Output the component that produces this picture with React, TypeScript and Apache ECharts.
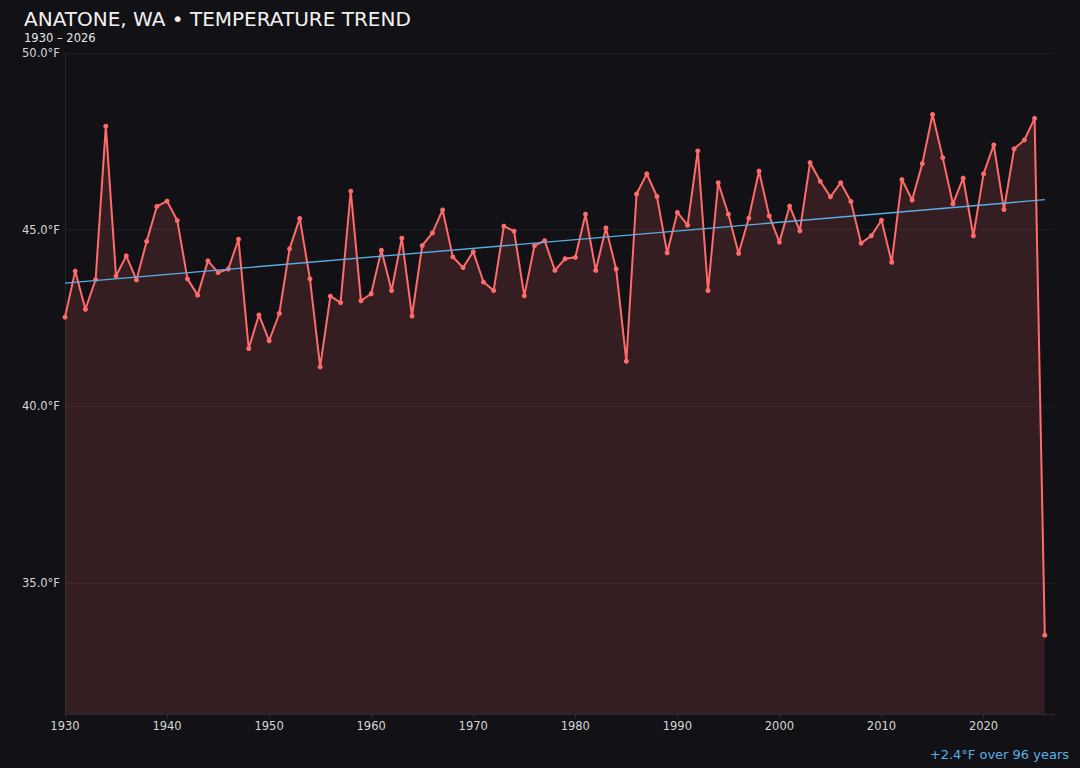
import React, { useEffect, useRef } from "react";
import * as echarts from "echarts";

const years = [
  1930, 1931, 1932, 1933, 1934, 1935, 1936, 1937, 1938, 1939,
  1940, 1941, 1942, 1943, 1944, 1945, 1946, 1947, 1948, 1949,
  1950, 1951, 1952, 1953, 1954, 1955, 1956, 1957, 1958, 1959,
  1960, 1961, 1962, 1963, 1964, 1965, 1966, 1967, 1968, 1969,
  1970, 1971, 1972, 1973, 1974, 1975, 1976, 1977, 1978, 1979,
  1980, 1981, 1982, 1983, 1984, 1985, 1986, 1987, 1988, 1989,
  1990, 1991, 1992, 1993, 1994, 1995, 1996, 1997, 1998, 1999,
  2000, 2001, 2002, 2003, 2004, 2005, 2006, 2007, 2008, 2009,
  2010, 2011, 2012, 2013, 2014, 2015, 2016, 2017, 2018, 2019,
  2020, 2021, 2022, 2023, 2024, 2025, 2026,
];

const temps = [
  42.53, 43.83, 42.75, 43.59, 47.93, 43.69, 44.26, 43.58, 44.67, 45.66,
  45.81, 45.26, 43.61, 43.15, 44.12, 43.79, 43.89, 44.73, 41.64, 42.59,
  41.86, 42.63, 44.46, 45.32, 43.61, 41.12, 43.12, 42.94, 46.09, 42.99,
  43.19, 44.42, 43.28, 44.76, 42.56, 44.55, 44.91, 45.56, 44.23, 43.93,
  44.38, 43.52, 43.28, 45.1, 44.96, 43.13, 44.55, 44.69, 43.85, 44.18,
  44.22, 45.44, 43.85, 45.05, 43.89, 41.28, 46.01, 46.58, 45.94, 44.35,
  45.49, 45.13, 47.23, 43.28, 46.33, 45.44, 44.33, 45.33, 46.66, 45.39,
  44.65, 45.67, 44.97, 46.9, 46.37, 45.93, 46.33, 45.8, 44.62, 44.83,
  45.27, 44.08, 46.42, 45.84, 46.87, 48.26, 47.04, 45.73, 46.46, 44.83,
  46.58, 47.4, 45.57, 47.29, 47.54, 48.15, 33.53,
];

const trendYears = [1930, 2026];
const trendValues = [43.49, 45.85];

const yTicks = [35, 40, 45, 50];

const TITLE = "ANATONE, WA • TEMPERATURE TREND";
const SUBTITLE = "1930 – 2026";
const NOTE = "+2.4°F over 96 years";

const BG = "#121116";
const LINE = "#ff6b6b";
const TREND = "#5aafe4";
const FONT = "DejaVu Sans";

export default function App() {
  const ref = useRef<HTMLDivElement>(null);

  useEffect(() => {
    if (!ref.current) return;
    const chart = echarts.init(ref.current, undefined, { renderer: "svg" });
    chart.setOption({
      animation: false,
      backgroundColor: BG,
      textStyle: { fontFamily: FONT },
      graphic: [
        {
          type: "text",
          x: 24,
          y: 19,
          style: {
            text: TITLE,
            fill: "#f2f2f2",
            fontSize: 20,
            fontFamily: FONT,
            lineHeight: 14,
            verticalAlign: "middle",
          },
        },
        {
          type: "text",
          x: 24,
          y: 37.5,
          style: {
            text: SUBTITLE,
            fill: "#e6e6e6",
            fontSize: 11.5,
            fontFamily: FONT,
            lineHeight: 9,
            verticalAlign: "middle",
          },
        },
        {
          type: "text",
          right: 11,
          top: 748,
          style: { text: NOTE, fill: TREND, fontSize: 13, fontFamily: FONT },
        },
      ],
      grid: { left: 65, right: 25, top: 53, bottom: 54 },
      xAxis: {
        type: "value",
        min: 1930,
        max: 2027,
        interval: 10,
        axisLine: { show: true, lineStyle: { color: "#2c2b31" } },
        axisTick: { show: true, length: 4, lineStyle: { color: "#2c2b31" } },
        axisLabel: {
          color: "#d6d6d6",
          fontSize: 11.5,
          margin: 6,
          fontFamily: FONT,
          formatter: (v: number) => String(v),
          showMaxLabel: false,
        },
        splitLine: { show: false },
      },
      yAxis: {
        type: "value",
        min: 31.3,
        max: 50,
        axisLine: { show: true, lineStyle: { color: "#26252b" } },
        axisTick: { show: false, customValues: yTicks },
        axisLabel: {
          color: "#d6d6d6",
          fontSize: 11.5,
          margin: 5,
          fontFamily: FONT,
          customValues: yTicks,
          formatter: (v: number) => v.toFixed(1) + "°F",
        },
        splitLine: { show: true, lineStyle: { color: "#1e1d23" } },
      },
      series: [
        {
          type: "line",
          data: years.map((y, i) => [y, temps[i]]),
          symbol: "circle",
          symbolSize: 5,
          lineStyle: { color: LINE, width: 2 },
          itemStyle: { color: LINE },
          areaStyle: { color: "rgba(255,107,107,0.15)", opacity: 1, origin: "start" },
          z: 2,
        },
        {
          type: "line",
          data: trendYears.map((y, i) => [y, trendValues[i]]),
          symbol: "none",
          lineStyle: { color: TREND, width: 1.3 },
          z: 3,
        },
      ],
    });
    return () => chart.dispose();
  }, []);

  return (
    <div
      ref={ref}
      style={{ position: "fixed", left: 0, top: 0, width: 1080, height: 768, background: BG }}
    />
  );
}
